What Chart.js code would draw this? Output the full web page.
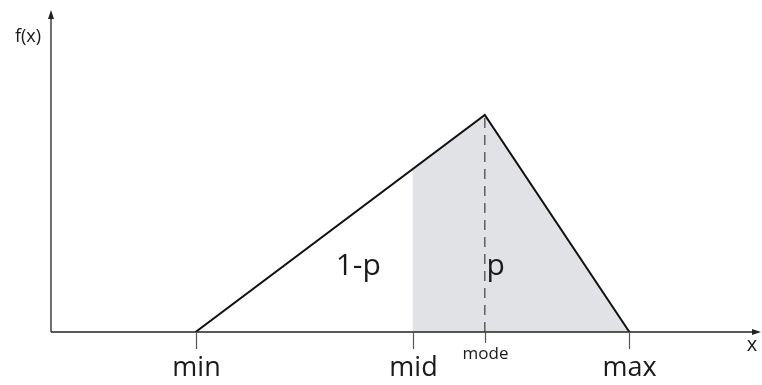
<!DOCTYPE html>
<html lang="en">
<head>
<meta charset="UTF-8">
<title>Triangular distribution</title>
<style>
    html, body { margin: 0; padding: 0; background: #ffffff; }
    .wrap { width: 762px; height: 385px; }
</style>
</head>
<body>
<div class="wrap"><canvas id="chart" width="762" height="385"></canvas></div>
<script src="https://cdn.jsdelivr.net/npm/chart.js@4/dist/chart.umd.min.js"></script>
<script>
    // positions on the x axis
    const keyNames = ["min", "mid", "mode", "max"];
    const keyValues = [0, 3, 4, 6];
    const peakHeight = 3;
    // triangle outline: min -> mode -> max
    const outlineX = [0, 4, 6];
    const outlineY = [0, 3, 0];
    // shaded part right of mid
    const shadeX = [3, 4, 6];
    const shadeY = [2.25, 3, 0];
    const areaLabels = ["1-p", "p"];
    const areaLabelX = [2.25, 4.15];
    const areaLabelY = [0.9, 0.9];

    const font = "'Open Sans', 'DejaVu Sans', sans-serif";

    function pts(xs, ys) {
        return xs.map((x, i) => ({ x: x, y: ys[i] }));
    }

    const axesPlugin = {
        id: 'axes',
        afterDatasetsDraw(chart) {
            const c = chart.ctx;
            const xs = chart.scales.x, ys = chart.scales.y;
            const x0 = xs.getPixelForValue(xs.min);
            const x1 = xs.getPixelForValue(xs.max);
            const y0 = ys.getPixelForValue(0);
            const yTop = ys.getPixelForValue(ys.max);
            c.save();
            c.strokeStyle = '#222';
            c.fillStyle = '#222';
            c.lineWidth = 1.3;
            // x axis
            c.beginPath();
            c.moveTo(x0, y0); c.lineTo(x1 - 6, y0); c.stroke();
            c.beginPath();
            c.moveTo(x1, y0); c.lineTo(x1 - 9, y0 - 3); c.lineTo(x1 - 9, y0 + 3); c.closePath(); c.fill();
            // y axis
            c.beginPath();
            c.moveTo(x0, y0); c.lineTo(x0, yTop + 6); c.stroke();
            c.beginPath();
            c.moveTo(x0, yTop); c.lineTo(x0 - 3, yTop + 9); c.lineTo(x0 + 3, yTop + 9); c.closePath(); c.fill();

            // tick marks and labels
            c.strokeStyle = '#555';
            c.lineWidth = 1.2;
            c.textAlign = 'center';
            c.textBaseline = 'middle';
            keyValues.forEach((v, i) => {
                const px = Math.round(xs.getPixelForValue(v)) + 0.5;
                const small = keyNames[i] === 'mode';
                c.beginPath();
                c.moveTo(px, y0);
                c.lineTo(px, y0 + (small ? 11 : 17));
                c.stroke();
                c.fillStyle = '#1a1a1a';
                c.font = (small ? '17px ' : '27px ') + font;
                c.fillText(keyNames[i], px, small ? y0 + 22 : y0 + 36);
            });

            // axis names
            c.font = '20px ' + font;
            c.fillText('x', 752, y0 + 13);
            c.font = '18px ' + font;
            c.fillText('f(x)', 28, 37);

            // area labels
            c.font = '30px ' + font;
            areaLabels.forEach((t, i) => {
                c.fillText(t, xs.getPixelForValue(areaLabelX[i]), ys.getPixelForValue(areaLabelY[i]));
            });
            c.restore();
        }
    };

    new Chart(document.getElementById('chart'), {
        type: 'scatter',
        data: {
            datasets: [
                {
                    data: pts(shadeX, shadeY),
                    showLine: true,
                    borderWidth: 0,
                    borderColor: 'rgba(0,0,0,0)',
                    backgroundColor: '#e1e2e5',
                    fill: 'origin',
                    pointRadius: 0,
                    order: 3
                },
                {
                    data: pts([keyValues[2], keyValues[2]], [0, peakHeight]),
                    showLine: true,
                    borderWidth: 1.4,
                    borderColor: '#555',
                    borderDash: [10, 7],
                    pointRadius: 0,
                    order: 2
                },
                {
                    data: pts(outlineX, outlineY),
                    showLine: true,
                    borderWidth: 2,
                    borderColor: '#111',
                    pointRadius: 0,
                    fill: false,
                    order: 1
                }
            ]
        },
        options: {
            responsive: false,
            animation: false,
            layout: { padding: { left: 51, right: 1, top: 10, bottom: 53 } },
            plugins: { legend: { display: false }, tooltip: { enabled: false } },
            scales: {
                x: { type: 'linear', min: -2, max: 7.82, display: false },
                y: { type: 'linear', min: 0, max: 4.45, display: false }
            }
        },
        plugins: [axesPlugin]
    });
</script>
</body>
</html>
